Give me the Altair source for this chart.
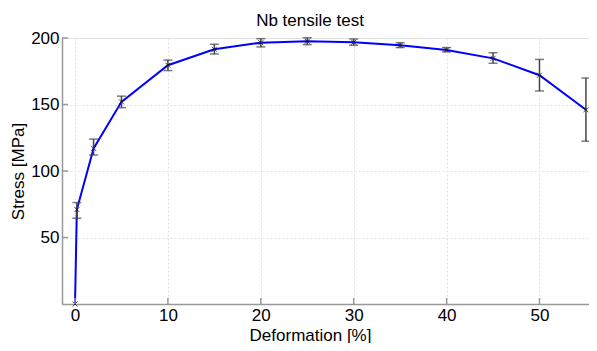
import altair as alt
import pandas as pd

# Data
deformation = [0, 0.2, 2, 5, 10, 15, 20, 25, 30, 35, 40, 45, 50, 55]
stress = [0, 71, 117, 152, 179.5, 191.5, 196.5, 197.5, 196.8, 194.5, 191, 184.7, 172, 146]
stress_lo = [0, 64.5, 112, 147.6, 175.5, 188, 193.3, 195, 194.5, 192.8, 189.6, 181, 160.2, 122.4]
stress_hi = [0, 76.3, 124, 156.3, 183.4, 195.3, 199.5, 200.2, 199.3, 196.5, 192.8, 188.9, 183.9, 169.9]
x_ticks = [0, 10, 20, 30, 40, 50]
y_ticks = [50, 100, 150, 200]

df = pd.DataFrame({"x": deformation, "y": stress, "lo": stress_lo, "hi": stress_hi})
df_err = df[df["x"] > 0]
df_xt = pd.DataFrame({"x": x_ticks})
df_yt = pd.DataFrame({"y": y_ticks})

FONT = "Liberation Sans"
AXIS_COLOR = "#999999"
W, H = 527, 266

xscale = alt.Scale(domain=[-1.4, 55.33], nice=False, zero=False)
yscale = alt.Scale(domain=[0, 200], nice=False)

xaxis = alt.Axis(
    values=x_ticks, title="Deformation [%]", ticks=False, tickSize=0,
    labelPadding=16, labelBaseline="alphabetic", labelFontSize=17, labelFont=FONT,
    labelColor="black", titleFont=FONT, titleFontSize=17, titleFontWeight="normal",
    titleColor="black", titleX=248, titleY=36, titleBaseline="alphabetic",
    titleAnchor="start", titleAlign="center",
    domainColor=AXIS_COLOR, domainWidth=1.5,
    grid=True, gridColor="#e3e3e3", gridDash=[2, 2], gridWidth=1,
)
yaxis = alt.Axis(
    values=y_ticks, title="Stress [MPa]", ticks=False, tickSize=0,
    labelPadding=3, labelFontSize=17, labelFont=FONT, labelColor="black",
    titleFont=FONT, titleFontSize=17, titleFontWeight="normal", titleColor="black",
    titleX=-39, titleY=H / 2, titleBaseline="alphabetic", titleAlign="center",
    titleAngle=270,
    domainColor=AXIS_COLOR, domainWidth=1.5,
    grid=True, gridColor="#e3e3e3", gridDash=[2, 2], gridWidth=1,
)

base = alt.Chart(df)

line = base.mark_line(color="#0000ff", strokeWidth=2).encode(
    x=alt.X("x:Q", scale=xscale, axis=xaxis),
    y=alt.Y("y:Q", scale=yscale, axis=yaxis),
)

err_base = alt.Chart(df_err)
err_rule = err_base.mark_rule(color="#444444", strokeWidth=1.5).encode(
    x=alt.X("x:Q", scale=xscale),
    y=alt.Y("lo:Q", scale=yscale),
    y2="hi:Q",
)
err_top = err_base.mark_tick(color="#444444", thickness=1.5, size=9, orient="horizontal").encode(
    x=alt.X("x:Q", scale=xscale),
    y=alt.Y("hi:Q", scale=yscale),
)
err_bot = err_base.mark_tick(color="#444444", thickness=1.5, size=9, orient="horizontal").encode(
    x=alt.X("x:Q", scale=xscale),
    y=alt.Y("lo:Q", scale=yscale),
)

markers = base.mark_point(
    shape="M-1,-1L1,1M-1,1L1,-1", size=25, filled=False, color="black", strokeWidth=1
).encode(
    x=alt.X("x:Q", scale=xscale),
    y=alt.Y("y:Q", scale=yscale),
)

xt = alt.Chart(df_xt).mark_rule(color=AXIS_COLOR, strokeWidth=1.5).encode(
    x=alt.X("x:Q", scale=xscale),
    y=alt.value(H),
    y2=alt.value(H - 6),
)
yt = alt.Chart(df_yt).mark_rule(color=AXIS_COLOR, strokeWidth=1.5).encode(
    y=alt.Y("y:Q", scale=yscale),
    x=alt.value(0),
    x2=alt.value(6),
)

chart = alt.layer(line, err_rule, err_top, err_bot, markers, xt, yt).properties(
    width=W,
    height=H,
    title=alt.TitleParams(
        "Nb tensile test", font=FONT, fontSize=17, fontWeight="normal", color="black",
        anchor="middle", frame="group", dx=-15.5, dy=19, offset=5, baseline="alphabetic",
    ),
    autosize=alt.AutoSizeParams(type="none"),
    padding={"left": 54, "top": 30, "right": 0, "bottom": 39},
).configure_view(stroke=None).configure(background="white")

chart.save("out.html", embed_options={"renderer": "svg", "actions": False})
